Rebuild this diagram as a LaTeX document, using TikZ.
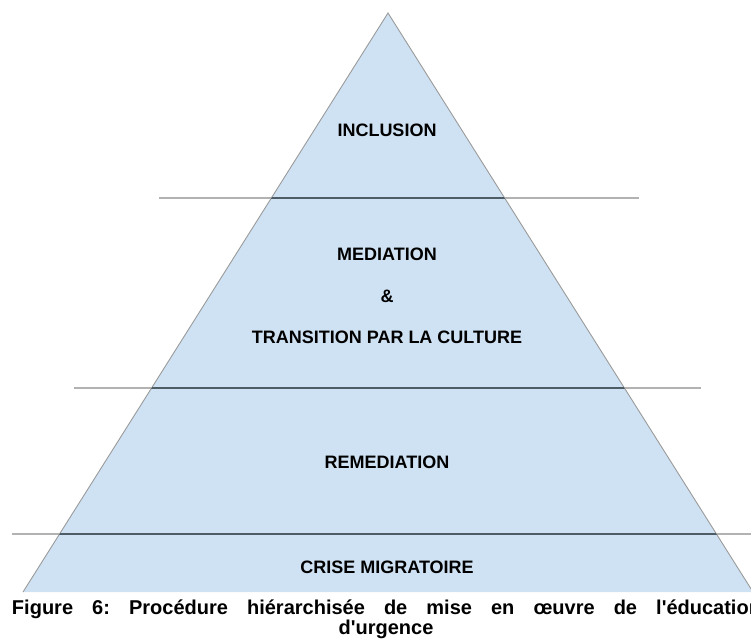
\documentclass[tikz,border=0pt]{standalone}
\usepackage{fontspec}
\setmainfont{Liberation Sans}
\usetikzlibrary{positioning}

\definecolor{pyrblue}{HTML}{CFE2F3}
\definecolor{pyredge}{HTML}{9A9A9A}
\definecolor{sepdark}{HTML}{4E5C66}

\begin{document}
\frenchspacing
\begin{tikzpicture}[x=1pt,y=-1pt,
    level/.style={font=\fontsize{18}{21}\selectfont\bfseries, inner sep=0pt, anchor=base},
    sepline/.style={draw=black!30, line width=1.3pt},
    capline/.style={font=\fontsize{20}{19}\selectfont\bfseries, inner sep=0pt, anchor=base}]
  \useasboundingbox (0,0) rectangle (751,644);

  % pyramid
  \coordinate (apex) at (388,13);
  \coordinate (left) at (23,592);
  \coordinate (right) at (753,592);
  \fill[pyrblue] (apex) -- (left) -- (right) -- cycle;
  \draw[pyredge, line width=0.9pt] (left) -- (apex) -- (right);

  % separators
  \coordinate (s1l) at (159,198);  \coordinate (s1r) at (639,198);
  \coordinate (s2l) at (74,388);   \coordinate (s2r) at (701,388);
  \coordinate (s3l) at (12,534);   \coordinate (s3r) at (751,534);
  \foreach \s in {1,2,3}
    \draw[sepline] (s\s l) -- (s\s r);
  \begin{scope}
    \clip (apex) -- (left) -- (right) -- cycle;
    \foreach \s in {1,2,3}
      \draw[sepline, draw=sepdark] (s\s l) -- (s\s r);
  \end{scope}

  % levels
  \node[level] (inclusion) at (387,137) {INCLUSION};
  \node[level] (mediation) at (387,260) {MEDIATION};
  \node[level] (amp) at (387,302) {\&};
  \node[level] (transition) at (387,343) {TRANSITION PAR LA CULTURE};
  \node[level] (remediation) at (387,468) {REMEDIATION};
  \node[level] (crise) at (387,573) {CRISE MIGRATOIRE};

  % caption (first line justified, runs past the right edge)
  \node[capline] (cap1) at (386.5,614) {\makebox[749pt][s]{Figure 6: Procédure hiérarchisée de mise en œuvre de l\textquotesingle éducation}};
  \node[capline] (cap2) at (386,634) {d\textquotesingle urgence};
\end{tikzpicture}
\end{document}
